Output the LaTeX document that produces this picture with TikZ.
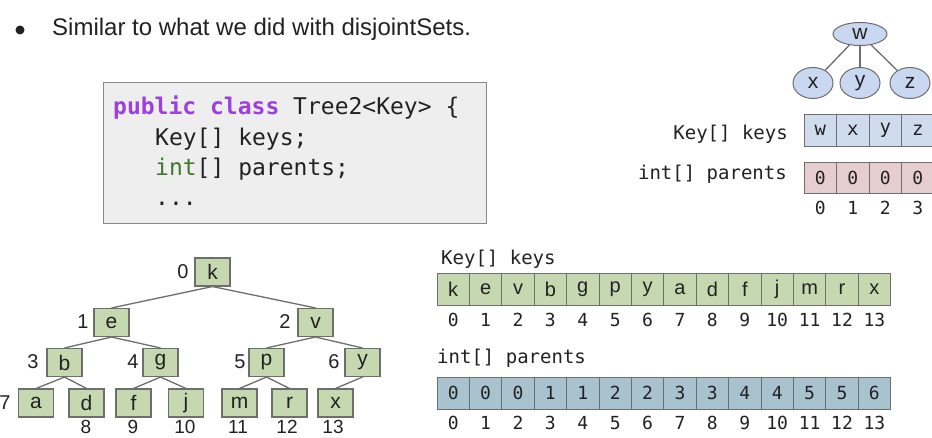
\documentclass[tikz,border=0pt]{standalone}
\usepackage{fontspec}
\setmainfont{Liberation Sans}
\setmonofont{DejaVu Sans Mono}
\usetikzlibrary{shapes.geometric}
\definecolor{codebg}{HTML}{EEEEEE}
\definecolor{codeframe}{HTML}{8A8A8A}
\definecolor{kw}{HTML}{9B3FE0}
\definecolor{intg}{HTML}{3C7A2A}
\definecolor{greenfill}{HTML}{C6D8B0}
\definecolor{boxline}{HTML}{6E6E6E}
\definecolor{bluefill}{HTML}{A9C2CF}
\definecolor{lightblue}{HTML}{C9D7F0}
\definecolor{keysblue}{HTML}{CEDCEE}
\definecolor{pinkfill}{HTML}{E6CDD0}
\definecolor{txt}{HTML}{222222}
\tikzset{
  treebox/.style={draw=boxline, fill=greenfill, line width=1.1pt, minimum width=35pt, minimum height=28pt, inner sep=0pt, font=\fontsize{21}{22}\selectfont, text=txt},
  ell/.style={ellipse, draw=boxline, fill=lightblue, line width=1pt, inner sep=0pt, font=\fontsize{21}{22}\selectfont, text=txt},
  edge/.style={draw=boxline, line width=1.3pt},
  tlabel/.style={inner sep=0pt, font=\fontsize{20}{22}\selectfont, text=txt},
  keycell/.style={draw=boxline, fill=greenfill, line width=0.9pt, minimum width=32.4pt, minimum height=32pt, inner sep=0pt, font=\fontsize{20}{22}\selectfont, text=txt},
  parcell/.style={draw=boxline, fill=bluefill, line width=0.9pt, minimum width=32.4pt, minimum height=32pt, inner sep=0pt, font=\ttfamily\fontsize{18}{20}\selectfont, text=txt},
  smallkey/.style={draw=boxline, fill=keysblue, line width=0.9pt, minimum width=32.5pt, minimum height=32pt, inner sep=0pt, font=\ttfamily\fontsize{19}{20}\selectfont, text=txt},
  smallpar/.style={draw=boxline, fill=pinkfill, line width=0.9pt, minimum width=32.5pt, minimum height=31pt, inner sep=0pt, font=\ttfamily\fontsize{18}{20}\selectfont, text=txt},
  idx/.style={inner sep=0pt, font=\ttfamily\fontsize{18}{20}\selectfont, text=txt},
  monolabel/.style={inner sep=0pt, font=\ttfamily\fontsize{19}{20}\selectfont, text=txt},
  codeline/.style={inner sep=0pt, anchor=base west, font=\ttfamily\fontsize{23}{26}\selectfont, text=txt},
}
\begin{document}
\begin{tikzpicture}[x=1pt,y=-1pt]
\fill[white] (0,0) rectangle (932,438);
\useasboundingbox (0,0) rectangle (932,438);

% bullet line
\fill[txt] (20,30) circle (4.5);
\node[inner sep=0pt, anchor=base west, font=\fontsize{24}{26}\selectfont, text=txt] (bullet) at (52,36) {Similar to what we did with disjointSets.};

% code box
\node[draw=codeframe, fill=codebg, line width=1pt, minimum width=383pt, minimum height=141pt, inner sep=0pt, anchor=north west] (codebox) at (103,82) {};
\node[codeline] (c1) at (113,115) {\textcolor{kw}{\textbf{public class}} Tree2<Key> \{};
\node[codeline] (c2) at (155,146) {Key[] keys;};
\node[codeline] (c3) at (155,176) {\textcolor{intg}{int}[] parents;};
\node[codeline] (c4) at (155,206) {...};

% top-right tree
\node[ell, minimum width=54pt, minimum height=23pt] (w) at (860,34) {w};
\node[ell, minimum width=40pt, minimum height=31pt] (tx) at (813,83) {x};
\node[ell, minimum width=40pt, minimum height=31pt] (ty) at (860,83) {y};
\node[ell, minimum width=40pt, minimum height=31pt] (tz) at (910,83) {z};
\draw[edge] (w) -- (tx);
\draw[edge] (w) -- (ty);
\draw[edge] (w) -- (tz);

% top-right arrays
\node[monolabel, anchor=base east] (tkl) at (788,140) {Key[] keys};
\node[monolabel, anchor=base east] (tpl) at (787,180) {int[] parents};
\foreach \v [count=\i from 0] in {w,x,y,z} {
  \node[smallkey] (sk\i) at ({804+16.25+32.5*\i},130) {\v};
  \node[smallpar] (sp\i) at ({804+16.25+32.5*\i},177.5) {0};
  \node[idx] (si\i) at ({804+16.25+32.5*\i},208) {\i};
}

% bottom-left tree
\node[treebox] (k) at (212.5,272) {k};
\node[treebox] (e) at (111.5,322.5) {e};
\node[treebox] (v) at (315.5,322.5) {v};
\node[treebox] (b) at (64.5,362.5) {b};
\node[treebox] (g) at (160.5,362.5) {g};
\node[treebox] (p) at (266.5,362.5) {p};
\node[treebox] (y) at (362.5,362.5) {y};
\node[treebox] (a) at (36,403) {a};
\node[treebox] (d) at (86.5,403) {d};
\node[treebox] (f) at (133.5,403) {f};
\node[treebox] (j) at (186,403) {j};
\node[treebox] (m) at (239.5,403) {m};
\node[treebox] (r) at (289.5,403) {r};
\node[treebox] (x) at (335.5,403) {x};
\foreach \s/\t in {k/e,k/v,e/b,e/g,v/p,v/y,b/a,b/d,g/f,g/j,p/m,p/r,y/x}
  \draw[edge] (\s.south) -- (\t.north);

\node[tlabel] (l0) at (183,272) {0};
\node[tlabel] (l1) at (83,322) {1};
\node[tlabel] (l2) at (285,322) {2};
\node[tlabel] (l3) at (33,362) {3};
\node[tlabel] (l4) at (133,362) {4};
\node[tlabel] (l5) at (240,362) {5};
\node[tlabel] (l6) at (334,362) {6};
\node[tlabel] (l7) at (5,403) {7};
\node[tlabel, font=\fontsize{19}{20}\selectfont] (l8) at (86,427) {8};
\node[tlabel, font=\fontsize{19}{20}\selectfont] (l9) at (133,427) {9};
\node[tlabel, font=\fontsize{19}{20}\selectfont] (l10) at (185,427) {10};
\node[tlabel, font=\fontsize{19}{20}\selectfont] (l11) at (238,427) {11};
\node[tlabel, font=\fontsize{19}{20}\selectfont] (l12) at (287,427) {12};
\node[tlabel, font=\fontsize{19}{20}\selectfont] (l13) at (333,427) {13};

% bottom-right arrays
\node[monolabel, anchor=base west] (bkl) at (441,265) {Key[] keys};
\node[monolabel, anchor=base west] (bpl) at (437,363) {int[] parents};
\foreach \v [count=\i from 0] in {k,e,v,b,g,p,y,a,d,f,j,m,r,x} {
  \node[keycell] (key\i) at ({437+16.2+32.4*\i},289) {\v};
  \node[idx] (ki\i) at ({437+16.2+32.4*\i},320) {\i};
}
\foreach \v [count=\i from 0] in {0,0,0,1,1,2,2,3,3,4,4,5,5,6} {
  \node[parcell] (par\i) at ({437+16.2+32.4*\i},393) {\v};
  \node[idx] (pi\i) at ({437+16.2+32.4*\i},423) {\i};
}
\end{tikzpicture}
\end{document}
